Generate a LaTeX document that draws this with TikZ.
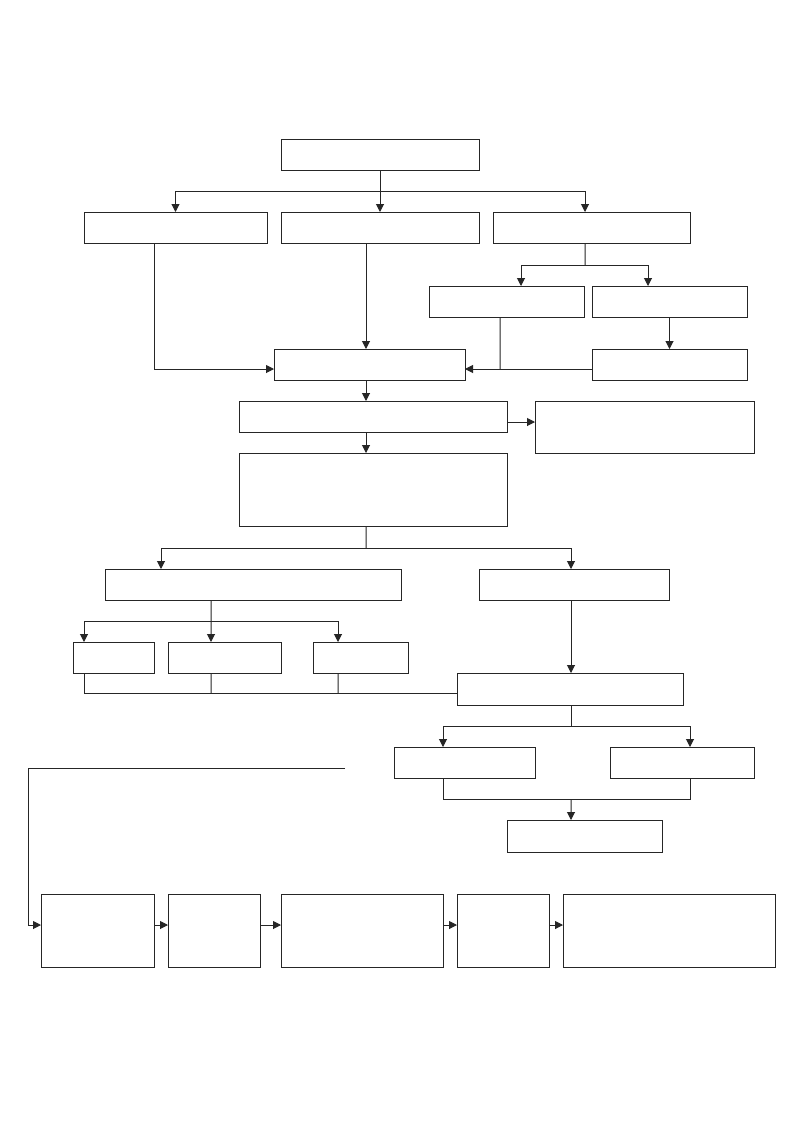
\documentclass[tikz,border=0pt]{standalone}
\usetikzlibrary{arrows.meta}
\begin{document}
\begin{tikzpicture}[x=1bp,y=-1bp,
  box/.style={draw=black!85,line width=1bp,fill=white,rectangle,inner sep=0pt,outer sep=0pt},
  ln/.style={draw=black!85,line width=1bp},
  arr/.style={ln,-{Triangle[length=8bp,width=8bp]}}]
\newcommand\bx[5]{\node[box,minimum width={(#4-#2)*1bp},minimum height={(#5-#3)*1bp}] (#1) at ({(#2+#4)/2},{(#3+#5)/2}) {};}
\fill[white] (0,0) rectangle (800,1132);
\useasboundingbox (0,0) rectangle (800,1132);
% boxes
\bx{A}{281}{139}{479}{170}
\bx{B1}{84}{212}{267}{243}
\bx{B2}{281}{212}{479}{243}
\bx{B3}{493}{212}{690}{243}
\bx{C1}{429}{286}{584}{317}
\bx{C2}{592}{286}{747}{317}
\bx{C3}{592}{349}{747}{380}
\bx{D}{274}{349}{465}{380}
\bx{E}{239}{401}{507}{432}
\bx{F}{535}{401}{754}{453}
\bx{G}{239}{453}{507}{526}
\bx{H1}{105}{569}{401}{600}
\bx{H2}{479}{569}{669}{600}
\bx{I1}{73}{642}{154}{673}
\bx{I2}{168}{642}{281}{673}
\bx{I3}{313}{642}{408}{673}
\bx{J}{457}{673}{683}{705}
\bx{K1}{394}{747}{535}{778}
\bx{K2}{610}{747}{754}{778}
\bx{L}{507}{820}{662}{852}
\bx{M1}{41}{894}{154}{967}
\bx{M2}{168}{894}{260}{967}
\bx{M3}{281}{894}{443}{967}
\bx{M4}{457}{894}{549}{967}
\bx{M5}{563}{894}{775}{967}
% junctions
\coordinate (j1) at (380,191);
\coordinate (j2) at (585,265);
\coordinate (jd) at (500,369);
\coordinate (j4) at (366,548);
\coordinate (j5) at (211,621);
\coordinate (jb) at (211,693);
\coordinate (jc) at (338,693);
\coordinate (j7) at (571,726);
\coordinate (j8) at (571,799);
\coordinate (s) at (345,768);
\coordinate (c) at (28,768);
% connectors
\draw[ln] (A.south) -- (j1);
\draw[arr] (j1) -| (B1.north);
\draw[arr] (j1) -- (B2.north);
\draw[arr] (j1) -| ([xshift=-6.5bp]B3.north);
\draw[ln] ([xshift=-6.5bp]B3.south) -- (j2);
\draw[arr] (j2) -| ([xshift=14.5bp]C1.north);
\draw[arr] (j2) -| ([xshift=-21.5bp]C2.north);
\draw[arr] (C2.south) -- (C3.north);
\draw[arr] ([xshift=-21.5bp]B1.south) |- ([yshift=-4.5bp]D.west);
\draw[arr] ([xshift=-14bp]B2.south) -- ([xshift=-14bp]B2.south |- D.north);
\draw[ln] ([xshift=-6.5bp]C1.south) -- (jd);
\draw[arr] ([yshift=-4.5bp]C3.west) -- ([yshift=-4.5bp]D.east);
\draw[arr] ([xshift=-3.5bp]D.south) -- ([xshift=-3.5bp]D.south |- E.north);
\draw[arr] ([yshift=-5.5bp]E.east) -- ([yshift=-5.5bp]F.west |- E.east);
\draw[arr] ([xshift=-7bp]E.south) -- ([xshift=-7bp]G.north);
\draw[ln] ([xshift=-7bp]G.south) -- (j4);
\draw[arr] (j4) -| ([xshift=-92bp]H1.north);
\draw[arr] (j4) -| ([xshift=-3bp]H2.north);
\draw[ln] ([xshift=-42bp]H1.south) -- (j5);
\draw[arr] (j5) -| ([xshift=-29.5bp]I1.north);
\draw[arr] (j5) -- ([xshift=-13.5bp]I2.north);
\draw[arr] (j5) -| ([xshift=-22.5bp]I3.north);
\draw[ln] ([xshift=-29.5bp]I1.south) |- ([yshift=-4bp]J.west);
\draw[ln] ([xshift=-13.5bp]I2.south) -- (jb);
\draw[ln] ([xshift=-22.5bp]I3.south) -- (jc);
\draw[arr] ([xshift=-3bp]H2.south) -- ([xshift=-3bp]H2.south |- J.north);
\draw[ln] ([xshift=1bp]J.south) -- (j7);
\draw[arr] (j7) -| ([xshift=-21.5bp]K1.north);
\draw[arr] (j7) -| ([xshift=8bp]K2.north);
\draw[ln] ([xshift=-21.5bp]K1.south) |- (j8) -| ([xshift=8bp]K2.south);
\draw[arr] (j8) -- ([xshift=-13.5bp]L.north);
\draw[arr] (s) -- (c) |- ([yshift=5.5bp]M1.west);
\draw[arr] ([yshift=5.5bp]M1.east) -- ([yshift=5.5bp]M2.west);
\draw[arr] ([yshift=5.5bp]M2.east) -- ([yshift=5.5bp]M3.west);
\draw[arr] ([yshift=5.5bp]M3.east) -- ([yshift=5.5bp]M4.west);
\draw[arr] ([yshift=5.5bp]M4.east) -- ([yshift=5.5bp]M5.west);
\end{tikzpicture}
\end{document}
